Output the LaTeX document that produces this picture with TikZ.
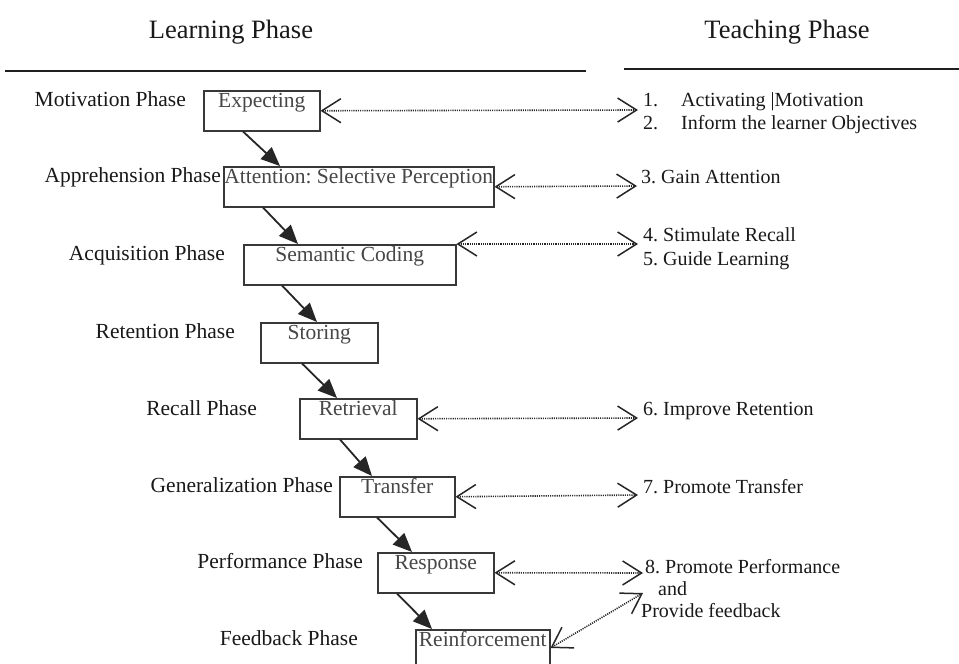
\documentclass[tikz,border=0pt]{standalone}
\usepackage{fontspec}
\setmainfont{Liberation Serif}
\usetikzlibrary{arrows.meta,calc}
\begin{document}
\frenchspacing
\begin{tikzpicture}[x=1pt,y=-1pt,
  every node/.style={inner sep=0pt, text=black!90},
  body/.style={font=\fontsize{21.5}{25}\selectfont},
  item/.style={font=\fontsize{20}{24}\selectfont, anchor=base west},
  phase/.style={body, anchor=base east},
  head/.style={anchor=base, font=\fontsize{26.5}{31}\selectfont},
  rule/.style={draw=black!88, line width=2.2pt},
  stage/.style={body, draw=black!78, line width=1.5pt, anchor=north west,
    minimum height=40pt, text height=17pt, text depth=23pt, text=black!72},
  flow/.style={draw=black!85, line width=1.8pt, -{Triangle[length=19pt,width=16pt]}},
  link/.style={draw=black!85, line width=1.6pt, dash pattern=on 1.1pt off 1.1pt,
    {Straight Barb[length=19pt,width=24pt,line width=1.5pt]}-{Straight Barb[length=19pt,width=24pt,line width=1.5pt]}},
]
\useasboundingbox (0,0) rectangle (959,664);
\clip (0,0) rectangle (959,664);
\fill[white] (0,0) rectangle (959,664);

% column headings and rules
\node[head] (hlearn) at (231,38) {Learning Phase};
\node[head] (hteach) at (787,38) {Teaching Phase};
\coordinate (r1a) at (5,71);   \coordinate (r1b) at (586,71);
\coordinate (r2a) at (624,69); \coordinate (r2b) at (959,69);
\draw[rule] (r1a) -- (r1b);
\draw[rule] (r2a) -- (r2b);

% stages of learning
\node[stage, minimum width=116pt] (exp) at (203,90)  {Expecting};
\node[stage, minimum width=270pt] (att) at (223,166) {Attention: Selective Perception};
\node[stage, minimum width=212pt] (sem) at (243,244) {Semantic Coding};
\node[stage, minimum width=117pt] (sto) at (260,322) {Storing};
\node[stage, minimum width=117pt] (ret) at (299,398) {Retrieval};
\node[stage, minimum width=115pt] (tra) at (339,476) {Transfer};
\node[stage, minimum width=116pt] (rsp) at (377,552) {Response};
\node[stage, minimum width=134pt] (rei) at (415,629) {Reinforcement};

% phase names
\node[phase] (ph1) at (186,106) {Motivation Phase};
\node[phase] (ph2) at (221,182) {Apprehension Phase};
\node[phase] (ph3) at (225,260) {Acquisition Phase};
\node[phase] (ph4) at (235,338) {Retention Phase};
\node[phase] (ph5) at (257,415) {Recall Phase};
\node[phase] (ph6) at (333,492) {Generalization Phase};
\node[phase] (ph7) at (363,568) {Performance Phase};
\node[phase] (ph8) at (358,645) {Feedback Phase};

% flow between stages
\draw[flow] ($(exp.south west)+(40,0)$) -- ($(att.north west)+(57,0)$);
\draw[flow] ($(att.south west)+(40,0)$) -- ($(sem.north west)+(55,0)$);
\draw[flow] ($(sem.south west)+(39,0)$) -- ($(sto.north west)+(57,0)$);
\draw[flow] ($(sto.south west)+(42,0)$) -- ($(ret.north west)+(38,0)$);
\draw[flow] ($(ret.south west)+(41,0)$) -- ($(tra.north west)+(33,0)$);
\draw[flow] ($(tra.south west)+(38,0)$) -- ($(rsp.north west)+(35,0)$);
\draw[flow] ($(rsp.south west)+(20,0)$) -- ($(rei.north west)+(17,0)$);

% teaching events
\node[item] (n1) at (643,106) {1.};
\node[item] (e1) at (681,106) {Activating |Motivation};
\node[item] (n2) at (643,129) {2.};
\node[item] (e2) at (681,129) {Inform the learner Objectives};
\node[item] (e3) at (641,183) {3. Gain Attention};
\node[item] (e4) at (643,241) {4. Stimulate Recall};
\node[item] (e5) at (643,265) {5. Guide Learning};
\node[item] (e6) at (643,415) {6. Improve Retention};
\node[item] (e7) at (643,493) {7. Promote Transfer};
\node[item] (e8) at (645,573) {8. Promote Performance};
\node[item] (e8b) at (658,595) {and};
\node[item] (e8c) at (641,617) {Provide feedback};

% links between stages and events
\coordinate (q1) at (638,110);
\coordinate (q2) at (637,186);
\coordinate (q3) at (638,244);
\coordinate (q4) at (638,418);
\coordinate (q5) at (638,495);
\coordinate (q6) at (643,573);
\coordinate (q7) at (643,593);
\draw[link] (exp.east) -- (q1);
\draw[link] (att.east) -- (q2);
\draw[link] (sem.north east) -- (q3);
\draw[link] (ret.east) -- (q4);
\draw[link] (tra.east) -- (q5);
\draw[link] (rsp.east) -- (q6);
\draw[link] ($(rei.north east)+(0,19)$) -- (q7);
\end{tikzpicture}
\end{document}
